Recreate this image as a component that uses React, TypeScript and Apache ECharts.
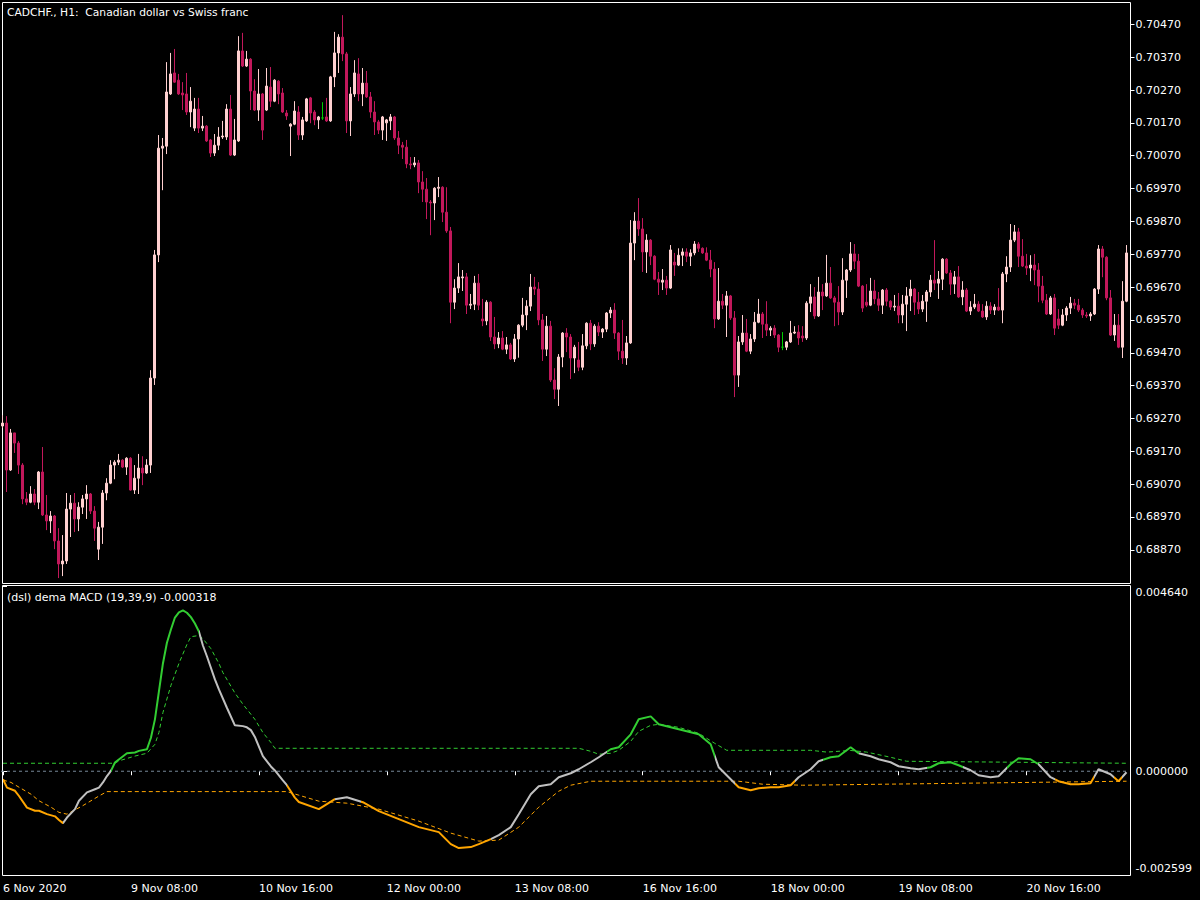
import React, { useEffect, useRef } from "react";
import * as echarts from "echarts";

// H1 candles, prices in points (1 point = 0.00001): [open, close, low, high]
const candles: number[][] = [
  [69247,69256,69241,69280],[69256,69113,69046,69277],[69113,69226,69110,69238],[69226,69195,69165,69226],
  [69195,69128,69101,69201],[69128,69025,69009,69134],[69025,69015,69006,69046],[69015,69040,69012,69064],
  [69040,69015,69006,69055],[69015,69107,68994,69110],[69107,68976,68973,69183],[68976,68958,68930,69037],
  [68958,68973,68921,68988],[68973,68897,68872,68976],[68897,68827,68784,68936],[68827,68836,68790,68915],
  [68836,68994,68827,69043],[68994,69012,68909,69037],[69012,68964,68924,69043],[68964,69000,68927,69015],
  [69000,69025,68979,69037],[69025,69040,68964,69067],[69040,68988,68979,69043],[68988,68936,68897,69003],
  [68872,68939,68839,68955],[68939,69043,68888,69052],[69043,69073,69021,69088],[69073,69128,69070,69143],
  [69128,69137,69085,69143],[69137,69143,69128,69162],[69143,69122,69119,69146],[69122,69149,69098,69152],
  [69149,69052,69050,69152],[69052,69088,69040,69128],[69088,69119,69040,69162],[69119,69104,69067,69155],
  [69104,69128,69101,69146],[69128,69393,69104,69417],[69393,69768,69372,69783],[69768,70093,69746,70133],
  [70093,70099,69965,70124],[70099,70264,70075,70355],[70258,70319,70255,70383],[70322,70294,70292,70395],
  [70300,70258,70255,70319],[70261,70255,70209,70294],[70258,70203,70194,70322],[70203,70236,70157,70279],
  [70154,70212,70145,70246],[70212,70154,70139,70246],[70154,70160,70145,70191],[70160,70115,70112,70163],
  [70118,70078,70066,70121],[70078,70102,70069,70136],[70102,70127,70087,70157],[70127,70130,70121,70176],
  [70127,70212,70118,70227],[70212,70072,70069,70255],[70072,70118,70069,70182],[70115,70389,70112,70434],
  [70389,70343,70340,70444],[70343,70364,70340,70389],[70364,70267,70209,70367],[70267,70209,70206,70303],
  [70209,70258,70176,70334],[70258,70148,70118,70261],[70209,70282,70206,70337],[70279,70236,70218,70340],
  [70236,70300,70233,70303],[70297,70258,70227,70300],[70261,70203,70200,70276],[70200,70191,70179,70209],
  [70160,70166,70069,70169],[70166,70206,70163,70236],[70203,70133,70118,70221],[70133,70179,70118,70188],
  [70176,70243,70173,70246],[70246,70200,70169,70249],[70203,70179,70163,70209],[70179,70188,70151,70191],
  [70185,70185,70179,70233],[70188,70176,70173,70246],[70176,70310,70173,70313],[70310,70383,70279,70447],
  [70383,70431,70322,70440],[70431,70380,70358,70498],[70380,70176,70139,70386],[70176,70258,70130,70279],
  [70258,70322,70249,70361],[70319,70258,70236,70367],[70258,70291,70221,70337],[70291,70249,70246,70328],
  [70249,70203,70185,70264],[70203,70173,70133,70236],[70173,70148,70136,70179],[70148,70188,70118,70191],
  [70170,70179,70115,70182],[70176,70188,70148,70197],[70188,70124,70118,70191],[70124,70102,70075,70145],
  [70102,70096,70060,70112],[70096,70045,70032,70118],[70045,70042,70029,70066],[70042,70048,70035,70066],
  [70048,69990,69956,70057],[69990,69968,69929,70023],[69968,69929,69877,70002],[69929,69926,69828,69935],
  [69926,69971,69874,69974],[69971,69974,69944,70005],[69974,69898,69868,69977],[69898,69841,69835,69974],
  [69841,69624,69560,69853],[69624,69667,69603,69694],[69667,69701,69652,69743],[69698,69701,69658,69722],
  [69701,69615,69588,69713],[69615,69618,69603,69649],[69618,69682,69600,69704],[69682,69615,69600,69710],
  [69573,69567,69551,69634],[69567,69624,69554,69630],[69624,69518,69506,69627],[69518,69497,69481,69579],
  [69497,69515,69484,69533],[69515,69481,69478,69536],[69481,69494,69466,69518],[69494,69451,69448,69500],
  [69451,69512,69442,69527],[69512,69554,69455,69557],[69554,69585,69548,69637],[69585,69612,69539,69630],
  [69612,69670,69597,69710],[69670,69664,69646,69701],[69664,69570,69554,69685],[69570,69481,69445,69588],
  [69481,69551,69460,69582],[69551,69387,69381,69567],[69387,69359,69329,69423],[69359,69457,69308,69466],
  [69457,69530,69426,69533],[69530,69518,69472,69545],[69518,69454,69390,69527],[69454,69487,69408,69494],
  [69448,69426,69414,69503],[69426,69491,69417,69527],[69491,69560,69481,69563],[69560,69497,69478,69570],
  [69497,69551,69488,69557],[69551,69533,69521,69563],[69533,69542,69515,69545],[69542,69591,69533,69594],
  [69591,69600,69576,69609],[69600,69530,69512,69621],[69530,69475,69448,69533],[69475,69454,69436,69570],
  [69454,69500,69433,69521],[69500,69804,69497,69874],[69804,69871,69752,69898],[69871,69847,69826,69941],
  [69847,69777,69716,69880],[69777,69813,69713,69831],[69813,69764,69737,69816],[69764,69694,69691,69767],
  [69694,69685,69646,69716],[69685,69691,69661,69725],[69691,69667,69646,69704],[69667,69783,69664,69798],
  [69746,69737,69704,69774],[69737,69767,69734,69788],[69767,69777,69734,69788],[69777,69764,69746,69788],
  [69764,69774,69734,69785],[69774,69801,69767,69810],[69801,69788,69777,69807],[69788,69774,69771,69791],
  [69774,69752,69749,69791],[69752,69725,69700,69783],[69725,69573,69545,69746],[69573,69627,69570,69728],
  [69627,69615,69603,69649],[69615,69643,69518,69658],[69643,69576,69570,69646],[69576,69402,69335,69597],
  [69402,69503,69366,69521],[69503,69530,69494,69585],[69530,69475,69472,69573],[69475,69512,69466,69527],
  [69512,69563,69503,69594],[69563,69588,69560,69634],[69588,69557,69515,69594],[69557,69539,69521,69627],
  [69539,69545,69521,69551],[69545,69524,69515,69554],[69524,69487,69472,69527],[69487,69487,69478,69533],
  [69487,69503,69478,69506],[69503,69530,69500,69567],[69530,69533,69527,69551],[69533,69515,69494,69554],
  [69521,69515,69503,69551],[69515,69621,69509,69627],[69621,69640,69594,69679],[69640,69582,69573,69670],
  [69582,69655,69579,69701],[69655,69643,69600,69679],[69643,69682,69640,69768],[69682,69637,69634,69731],
  [69637,69624,69551,69643],[69624,69594,69554,69673],[69594,69691,69585,69758],[69691,69722,69637,69725],
  [69722,69771,69716,69807],[69771,69749,69725,69801],[69749,69673,69670,69771],[69673,69606,69594,69676],
  [69624,69615,69609,69679],[69615,69658,69612,69698],[69658,69634,69618,69692],[69634,69615,69597,69655],
  [69615,69661,69588,69664],[69661,69627,69612,69667],[69627,69609,69600,69630],[69609,69612,69597,69646],
  [69612,69585,69560,69652],[69585,69618,69560,69646],[69618,69643,69536,69670],[69643,69664,69597,69692],
  [69664,69624,69585,69667],[69624,69603,69588,69655],[69603,69627,69594,69646],[69627,69655,69564,69661],
  [69655,69691,69640,69707],[69691,69682,69661,69813],[69682,69694,69634,69719],[69694,69755,69661,69758],
  [69755,69713,69710,69758],[69713,69679,69646,69722],[69679,69701,69649,69719],[69701,69640,69637,69734],
  [69640,69661,69615,69688],[69661,69597,69594,69667],[69597,69609,69585,69627],[69609,69618,69603,69649],
  [69618,69597,69594,69627],[69597,69579,69576,69618],[69579,69612,69570,69627],[69612,69600,69588,69624],
  [69600,69609,69585,69618],[69609,69600,69597,69667],[69600,69710,69560,69716],[69710,69731,69685,69764],
  [69731,69813,69716,69862],[69813,69838,69807,69859],[69838,69764,69731,69850],[69764,69734,69731,69816],
  [69734,69728,69707,69771],[69728,69737,69688,69767],[69737,69722,69676,69771],[69722,69673,69624,69743],
  [69673,69630,69621,69704],[69630,69588,69585,69649],[69588,69637,69585,69643],[69637,69545,69524,69649],
  [69573,69554,69542,69603],[69554,69585,69551,69603],[69585,69606,69567,69612],[69606,69621,69588,69640],
  [69621,69615,69603,69634],[69615,69600,69594,69634],[69600,69585,69576,69606],[69585,69582,69576,69594],
  [69582,69588,69567,69594],[69588,69664,69585,69667],[69664,69786,69649,69798],[69786,69761,69700,69795],
  [69761,69637,69630,69764],[69637,69524,69521,69661],[69524,69554,69506,69588],[69554,69487,69484,69588],
  [69487,69627,69454,69688],[69627,69774,69624,69798],
];

// price axis
const priceMin = 68769;
const priceMax = 70538;
const priceTicks = [68870, 68970, 69070, 69170, 69270, 69370, 69470, 69570, 69670, 69770, 69870, 69970, 70070, 70170, 70270, 70370, 70470];

// time axis
const timeTickIndex = [0, 32, 64, 96, 128, 160, 192, 224, 256];
const timeTickLabels = ["6 Nov 2020", "9 Nov 08:00", "10 Nov 16:00", "12 Nov 00:00", "13 Nov 08:00", "16 Nov 16:00", "18 Nov 00:00", "19 Nov 08:00", "20 Nov 16:00"];

// dema MACD main line (bar index, value)
const macdIdx = [0,1,3,4,6,8,9,11,13,14,15,16,18,19,21,23,24,25,26,27,28,31,33,34,36,37,38,39,40,41,42,43,44,45,46,47,48,49,50,51,53,54,56,58,60,61,62,63,65,67,68,70,71,73,74,79,83,86,90,94,99,104,109,112,114,117,119,122,124,127,129,132,134,137,139,142,144,147,149,152,154,157,159,162,164,167,169,172,174,177,179,182,184,187,189,192,194,197,199,202,204,207,209,212,214,217,219,222,224,227,229,232,234,237,239,242,244,247,249,252,254,257,259,262,264,267,269,272,274,277,279,281];
const macdVal = [-0.000200,-0.000410,-0.000490,-0.000620,-0.000910,-0.000990,-0.000990,-0.001075,-0.001130,-0.001220,-0.001300,-0.001160,-0.000950,-0.000740,-0.000530,-0.000450,-0.000410,-0.000280,-0.000120,0.000010,0.000220,0.000450,0.000470,0.000510,0.000550,0.000840,0.001300,0.002000,0.002700,0.003220,0.003550,0.003850,0.003980,0.004030,0.003970,0.003860,0.003700,0.003500,0.003150,0.002880,0.002300,0.002050,0.001590,0.001150,0.001130,0.001100,0.001030,0.000860,0.000380,0.000120,0.000020,-0.000230,-0.000350,-0.000660,-0.000770,-0.000950,-0.000700,-0.000650,-0.000775,-0.001000,-0.001200,-0.001400,-0.001525,-0.001825,-0.001925,-0.001900,-0.001825,-0.001700,-0.001600,-0.001400,-0.001075,-0.000575,-0.000375,-0.000325,-0.000150,-0.000050,0.000050,0.000225,0.000350,0.000550,0.000600,0.000925,0.001300,0.001375,0.001175,0.001100,0.001050,0.000975,0.000925,0.000675,0.000100,-0.000200,-0.000400,-0.000475,-0.000425,-0.000400,-0.000400,-0.000350,-0.000150,0.000050,0.000250,0.000350,0.000375,0.000600,0.000450,0.000375,0.000300,0.000225,0.000125,0.000075,0.000050,0.000100,0.000200,0.000225,0.000150,0.000025,-0.000100,-0.000150,-0.000125,0.000175,0.000325,0.000300,0.000175,-0.000150,-0.000250,-0.000325,-0.000325,-0.000300,0.000050,-0.000075,-0.000250,-0.000025];

// colour state of the MACD line: [from bar, to bar, state]
const macdStates: [number, number, string][] = [
  [0, 15, "dn"], [15, 27, "mid"], [27, 49, "up"], [49, 71, "mid"], [71, 83, "dn"], [83, 89.5, "mid"],
  [89.5, 122, "dn"], [122, 151, "mid"], [151, 178, "up"], [178, 183, "mid"], [183, 198, "dn"], [198, 205, "mid"],
  [205, 214, "up"], [214, 231, "mid"], [231, 240, "up"], [240, 251, "mid"], [251, 259, "up"], [259, 263, "mid"],
  [263, 273, "dn"], [273, 278, "mid"], [278, 280, "dn"], [280, 282, "mid"],
];

// upper discontinued signal line
const levelUpIdx = [0,28,29,33,36,38,39,40,42,44,46,47,49,50,52,54,55,58,60,63,65,67,68,144,147,149,152,154,157,159,162,164,169,174,178,181,202,206,212,216,222,226,281];
const levelUpVal = [0.000200,0.000200,0.000260,0.000380,0.000450,0.000675,0.000970,0.001470,0.002150,0.002700,0.003175,0.003370,0.003400,0.003320,0.003070,0.002700,0.002470,0.001960,0.001680,0.001300,0.000970,0.000720,0.000575,0.000575,0.000500,0.000425,0.000450,0.000525,0.000750,0.001000,0.001150,0.001175,0.001100,0.000950,0.000700,0.000525,0.000525,0.000480,0.000520,0.000480,0.000350,0.000250,0.000200];

// lower discontinued signal line
const levelDnIdx = [0,2,4,7,9,12,14,16,20,24,26,71,74,79,86,94,104,112,119,124,129,134,139,142,147,184,190,200,281];
const levelDnVal = [-0.000220,-0.000280,-0.000400,-0.000575,-0.000740,-0.000900,-0.001030,-0.001075,-0.000860,-0.000620,-0.000510,-0.000510,-0.000600,-0.000750,-0.000800,-0.000950,-0.001250,-0.001550,-0.001750,-0.001725,-0.001400,-0.000900,-0.000500,-0.000350,-0.000250,-0.000250,-0.000325,-0.000350,-0.000250];

const macdMin = -0.002599;
const macdMax = 0.00464;

const BULL = "#FFD0D0";
const BEAR = "#C2185B";
const DOJI = "#00CC00";
const UP = "#32CD32";
const MID = "#C0C0C0";
const DN = "#FFA500";
const FONT = "DejaVu Sans";

export default function App() {
  const ref = useRef<HTMLDivElement>(null);
  useEffect(() => {
    document.body.style.margin = "0";
    document.body.style.background = "#000";
    const chart = echarts.init(ref.current!, null, { renderer: "svg" });
    const stateColor: Record<string, string> = { up: UP, mid: MID, dn: DN };
    const candleData = candles.map((c) =>
      c[0] === c[1]
        ? { value: c, itemStyle: { color: DOJI, color0: DOJI, borderColor: DOJI, borderColor0: DOJI } }
        : c
    );
    const option: any = {
      animation: false,
      backgroundColor: "#000",
      grid: [
        { left: 0.5, top: 2, width: 1128, height: 581 },
        { left: 0.5, top: 586, width: 1128, height: 289 },
      ],
      xAxis: [
        {
          type: "category",
          gridIndex: 0,
          data: candles.map((_, i) => String(i)),
          boundaryGap: true,
          axisLine: { show: false },
          axisTick: { show: false },
          axisLabel: { show: false },
          splitLine: { show: false },
        },
        {
          type: "value",
          gridIndex: 1,
          min: -0.5,
          max: candles.length - 0.5,
          axisLine: { show: false },
          axisTick: { show: true, length: 4, customValues: timeTickIndex, lineStyle: { color: "#fff" } },
          axisLabel: {
            show: true,
            customValues: timeTickIndex,
            formatter: (v: number) => timeTickLabels[timeTickIndex.indexOf(Math.round(v))] ?? "",
            color: "#fff",
            fontFamily: FONT,
            fontSize: 11,
            align: "left",
            margin: 8,
          },
          splitLine: { show: false },
        },
      ],
      yAxis: [
        {
          type: "value",
          gridIndex: 0,
          position: "right",
          offset: 2,
          min: priceMin,
          max: priceMax,
          axisLine: { show: false },
          axisTick: { show: true, length: 4, customValues: priceTicks, lineStyle: { color: "#fff" } },
          axisLabel: {
            customValues: priceTicks,
            formatter: (v: number) => (v / 100000).toFixed(5),
            color: "#fff",
            fontFamily: FONT,
            fontSize: 11,
            margin: 5,
          },
          splitLine: { show: false },
        },
        {
          type: "value",
          gridIndex: 1,
          position: "right",
          offset: 2,
          min: macdMin,
          max: macdMax,
          axisLine: { show: false },
          axisTick: { show: true, length: 4, customValues: [macdMin, 0, macdMax], lineStyle: { color: "#fff" } },
          axisLabel: {
            customValues: [macdMin, 0, macdMax],
            formatter: (v: number) =>
              v > 0.001 ? "{t|" + macdMax.toFixed(6) + "}" : v < -0.001 ? "{b|" + macdMin.toFixed(6) + "}" : "0.000000",
            color: "#fff",
            fontFamily: FONT,
            fontSize: 11,
            margin: 5,
            rich: {
              t: { color: "#fff", fontFamily: FONT, fontSize: 11, padding: [13, 0, 0, 0] },
              b: { color: "#fff", fontFamily: FONT, fontSize: 11, padding: [0, 0, 13, 0] },
            },
          },
          splitLine: { show: false },
        },
      ],
      visualMap: [
        {
          type: "piecewise",
          show: false,
          seriesIndex: 4,
          dimension: 0,
          pieces: macdStates.map(([a, b, s]) => ({ gte: a, lt: b, color: stateColor[s] })),
        },
      ],
      series: [
        {
          type: "candlestick",
          xAxisIndex: 0,
          yAxisIndex: 0,
          data: candleData,
          barWidth: 2,
          itemStyle: { color: BULL, color0: BEAR, borderColor: BULL, borderColor0: BEAR, borderWidth: 1 },
        },
        {
          type: "line",
          xAxisIndex: 1,
          yAxisIndex: 1,
          data: [[-0.5, 0], [candles.length - 0.5, 0]],
          showSymbol: false,
          lineStyle: { color: "#778899", width: 1, type: [3, 3] },
          silent: true,
        },
        {
          type: "line",
          xAxisIndex: 1,
          yAxisIndex: 1,
          data: levelUpIdx.map((k, i) => [k, levelUpVal[i]]),
          showSymbol: false,
          lineStyle: { color: UP, width: 1, type: [4, 3] },
          silent: true,
        },
        {
          type: "line",
          xAxisIndex: 1,
          yAxisIndex: 1,
          data: levelDnIdx.map((k, i) => [k, levelDnVal[i]]),
          showSymbol: false,
          lineStyle: { color: DN, width: 1, type: [4, 3] },
          silent: true,
        },
        {
          type: "line",
          xAxisIndex: 1,
          yAxisIndex: 1,
          data: macdIdx.map((k, i) => [k, macdVal[i]]),
          showSymbol: false,
          lineStyle: { width: 2 },
          silent: true,
        },
      ],
      graphic: [
        { type: "rect", shape: { x: 2.5, y: 2.5, width: 1128, height: 581 }, style: { fill: "none", stroke: "#fff", lineWidth: 1 }, silent: true },
        { type: "rect", shape: { x: 2.5, y: 585.5, width: 1128, height: 290 }, style: { fill: "none", stroke: "#fff", lineWidth: 1 }, silent: true },
        { type: "text", x: 7, y: 12, style: { text: "CADCHF., H1:  Canadian dollar vs Swiss franc", fill: "#fff", fontFamily: FONT, fontSize: 10.7, verticalAlign: "middle" }, silent: true },
        { type: "text", x: 7, y: 597, style: { text: "(dsl) dema MACD (19,39,9) -0.000318", fill: "#fff", fontFamily: FONT, fontSize: 11, verticalAlign: "middle" }, silent: true },
      ],
    };
    chart.setOption(option);
    return () => chart.dispose();
  }, []);
  return <div ref={ref} style={{ position: "absolute", left: 0, top: 0, width: 1200, height: 900, background: "#000" }} />;
}
